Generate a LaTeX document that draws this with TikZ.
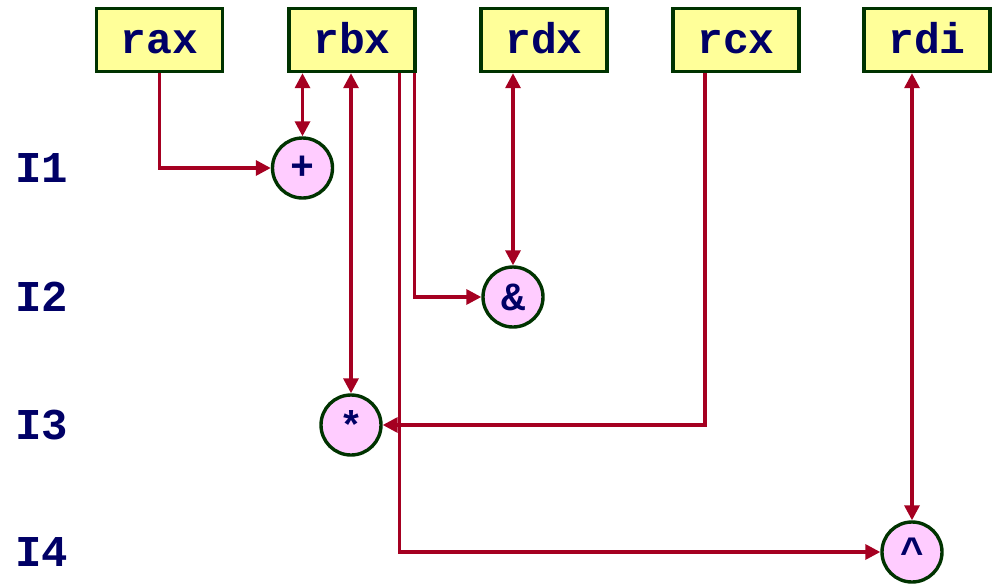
\documentclass[tikz,border=0pt]{standalone}
\usepackage{fontspec}
\setmainfont{Liberation Mono}
\usetikzlibrary{arrows.meta,calc}
\definecolor{regfill}{HTML}{FFFF99}
\definecolor{opfill}{HTML}{FFCCFF}
\definecolor{edgegreen}{HTML}{003300}
\definecolor{txtnavy}{HTML}{000066}
\definecolor{wire}{HTML}{A50021}
\tikzset{
  reg/.style={draw=edgegreen, line width=3.4pt, fill=regfill, minimum width=126pt, minimum height=63pt, inner sep=0pt, font=\fontsize{43}{43}\selectfont\bfseries, text=txtnavy, text height=26pt, text depth=0pt},
  op/.style={circle, draw=edgegreen, line width=3.4pt, fill=opfill, minimum size=60pt, inner sep=0pt, font=\fontsize{40}{40}\selectfont\bfseries, text=txtnavy},
  lbl/.style={font=\fontsize{44}{44}\selectfont\bfseries, text=txtnavy, inner sep=0pt},
  wirestyle/.style={draw=wire, line width=3.3pt, arrows={-Triangle[length=15pt,width=15pt]}},
  bothwire/.style={draw=wire, line width=3.3pt, arrows={Triangle[length=15pt,width=15pt]-Triangle[length=15pt,width=15pt]}},
}
\begin{document}
\begin{tikzpicture}[x=1pt,y=-1pt]
\useasboundingbox (0,0) rectangle (994,587);
\node[reg] (rax) at (159.5,40) {rax};
\node[reg] (rbx) at (352,40) {rbx};
\node[reg] (rdx) at (544,40) {rdx};
\node[reg] (rcx) at (736,40) {rcx};
\node[reg] (rdi) at (927,40) {rdi};
\node[op] (plus) at (302.5,168) {+};
\node[op] (amp) at (513,297) {\&};
\node[op] (star) at (351,425) {*};
\node[op] (caret) at (912,552) {\raisebox{-0.2ex}{\^{}}};
\node[lbl] (i1) at (42,168) {I1};
\node[lbl] (i2) at (42,297) {I2};
\node[lbl] (i3) at (42,425) {I3};
\node[lbl] (i4) at (42,552) {I4};
\coordinate (rbxa) at ($(rbx.south east)+(-2,0)$);
\coordinate (rbxb) at ($(rbx.south east)+(-17,0)$);
\coordinate (rcxa) at ($(rcx.south)+(-31,0)$);
\draw[wirestyle] (rax.south) |- (plus.west);
\draw[bothwire] (rbx.south -| plus) -- (plus.north);
\draw[bothwire] (rbx.south -| star) -- (star.north);
\draw[wirestyle] (rbxa) |- (amp.west);
\draw[wirestyle] (rbxb) |- (caret.west);
\draw[bothwire] (rdx.south -| amp) -- (amp.north);
\draw[wirestyle] (rcxa) |- (star.east);
\draw[bothwire] (rdi.south -| caret) -- (caret.north);
\end{tikzpicture}
\end{document}
